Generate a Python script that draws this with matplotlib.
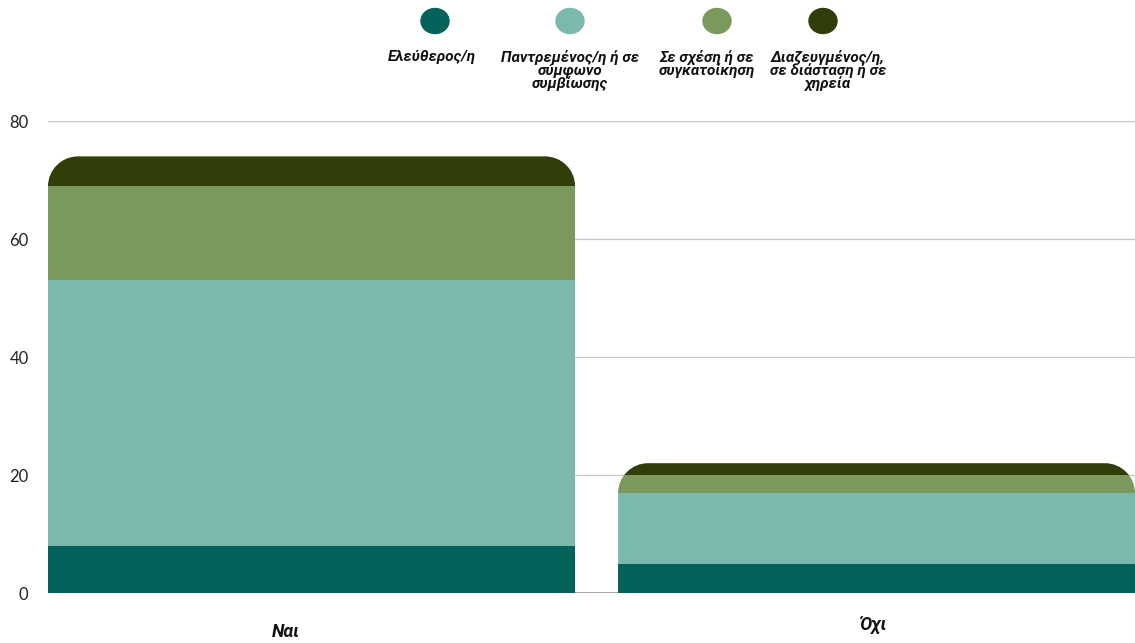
import numpy as np
import matplotlib
matplotlib.use('Agg')
import matplotlib.pyplot as plt
from matplotlib.path import Path
from matplotlib.patches import PathPatch, Ellipse

# ── data ──────────────────────────────────────────────────────────────
categories = ['Ναι', 'Όχι']
series_names = ['Ελεύθερος/η',
                'Παντρεμένος/η ή σε\nσύμφωνο\nσυμβίωσης',
                'Σε σχέση ή σε\nσυγκατοίκηση',
                'Διαζευγμένος/η,\nσε διάσταση ή σε\nχηρεία']
single = [8, 5]
married = [45, 12]
relationship = [16, 3]
divorced = [5, 2]
series_values = [single, married, relationship, divorced]
colors = ['#03635A', '#7BB9AE', '#7B995D', '#303E09']
y_ticks = [0, 20, 40, 60, 80]

W, H = 1135, 643
fig = plt.figure(figsize=(W / 100, H / 100), dpi=100)
ax = fig.add_axes([48 / W, (H - 593) / H, (1135 - 48) / W, (593 - 121) / H])

x = np.arange(len(categories))
bar_w = np.array([0.933, 0.915])
ax.set_xlim(-bar_w[0] / 2, 1 + bar_w[1] / 2)
ax.set_ylim(0, 80)

# pixel scale of the data units, for the rounded tops
p0 = ax.transData.transform((0, 0))
p1 = ax.transData.transform((1, 1))
rx = 30 / (p1[0] - p0[0])
ry = 30 / (p1[1] - p0[1])
k = 0.5523


def rounded_top(x0, w, h):
    verts = [(x0, 0), (x0, h - ry),
             (x0, h - ry + k * ry), (x0 + rx - k * rx, h), (x0 + rx, h),
             (x0 + w - rx, h),
             (x0 + w - rx + k * rx, h), (x0 + w, h - ry + k * ry), (x0 + w, h - ry),
             (x0 + w, 0), (x0, 0)]
    codes = [Path.MOVETO, Path.LINETO,
             Path.CURVE4, Path.CURVE4, Path.CURVE4,
             Path.LINETO,
             Path.CURVE4, Path.CURVE4, Path.CURVE4,
             Path.LINETO, Path.CLOSEPOLY]
    return Path(verts, codes)


totals = np.sum(series_values, axis=0)
clips = []
for i in range(len(categories)):
    clip = PathPatch(rounded_top(x[i] - bar_w[i] / 2, bar_w[i], totals[i]),
                     transform=ax.transData, facecolor='none', edgecolor='none')
    ax.add_patch(clip)
    clips.append(clip)

bottom = np.zeros(len(categories))
for vals, col in zip(series_values, colors):
    bars = ax.bar(x, vals, bar_w, bottom=bottom, color=col, linewidth=0, zorder=3)
    for b, clip in zip(bars, clips):
        b.set_clip_path(clip)
    bottom += np.array(vals)

# grid / axes styling
for y in y_ticks[1:]:
    ax.axhline(y, color='#c6c6c6', lw=0.9, zorder=1)
ax.axhline(0, color='#9a9a9a', lw=1.2, zorder=2)
for s in ax.spines.values():
    s.set_visible(False)
ax.set_yticks(y_ticks)
ax.set_yticklabels([str(v) for v in y_ticks], fontsize=12, family='Lato', color='#222222')
ax.tick_params(axis='y', length=0, pad=14)
ax.set_xticks([])

# category labels
label_dx = [-0.045, -0.007]
label_dy = [-39, -33]
for xi, lab, dx, dy in zip(x, categories, label_dx, label_dy):
    ax.annotate(lab, (xi + dx, 0), xytext=(0, dy), textcoords='offset pixels',
                ha='center', va='center', fontsize=13, fontweight='bold',
                style='italic', family='Roboto', color='#111111')

# legend: ellipse markers with labels underneath
leg_x = [435, 570, 717, 823]
leg_tx = [432, 570, 707, 828]
for lx, tx, name, col in zip(leg_x, leg_tx, series_names, colors):
    fig.patches.append(Ellipse((lx / W, (H - 21) / H), 28 / W, 25 / H,
                               transform=fig.transFigure, color=col))
    fig.text(tx / W, (H - 50) / H, name, ha='center', va='top', fontsize=11,
             fontweight='bold', style='italic', family='Roboto',
             linespacing=0.84, color='#111111')

fig.savefig('out.png', dpi=100, facecolor='white')
